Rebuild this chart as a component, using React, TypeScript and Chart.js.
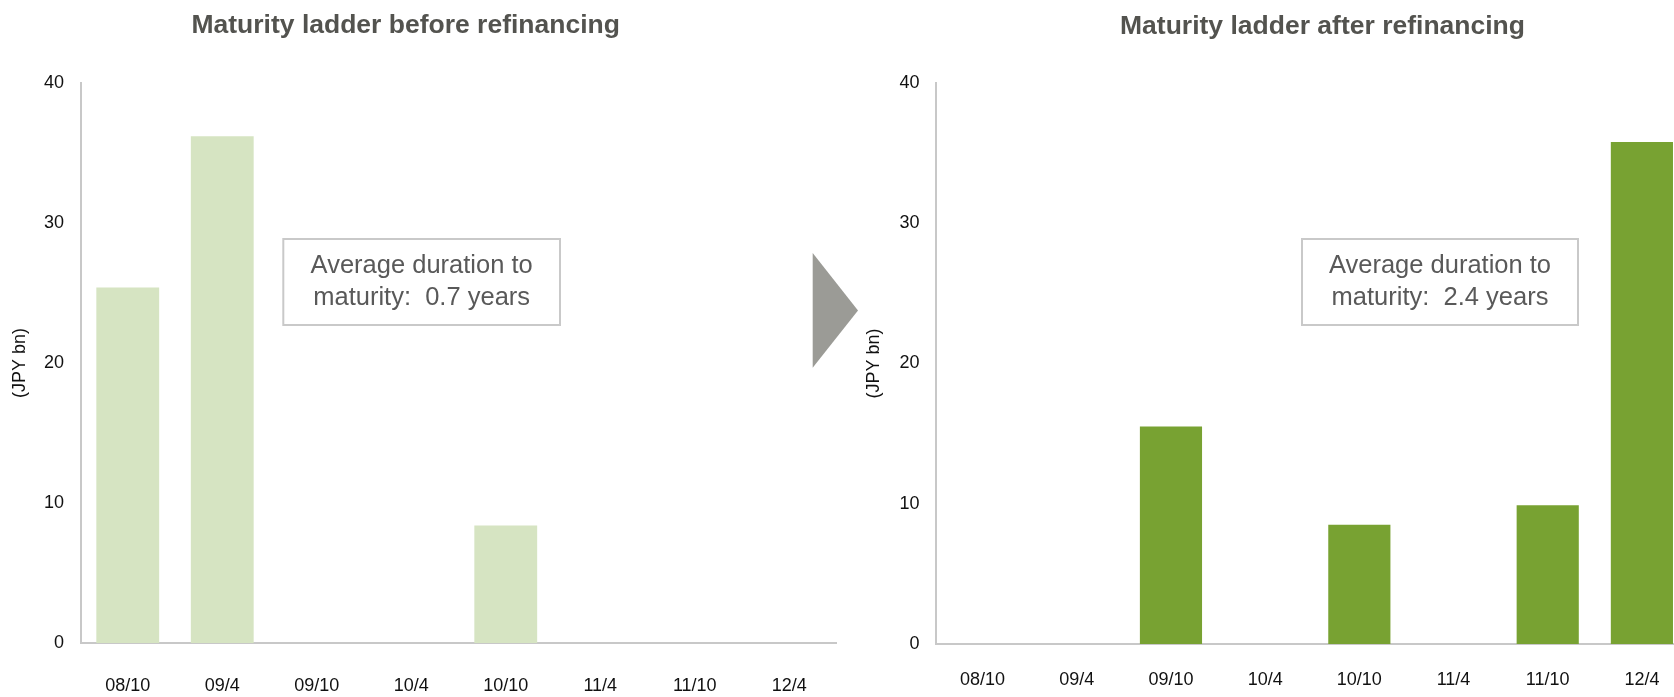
import React, { useEffect, useRef } from 'react';
import { Chart, registerables } from 'chart.js';

Chart.register(...registerables);

// Maturity buckets (fiscal year / month)
const categories = ['08/10', '09/4', '09/10', '10/4', '10/10', '11/4', '11/10', '12/4'];

// Debt maturing in each bucket, JPY bn
const beforeValues = [25.4, 36.2, 0, 0, 8.4, 0, 0, 0];
const afterValues = [0, 0, 15.5, 0, 8.5, 0, 9.9, 35.8];

const beforeTitle = 'Maturity ladder before refinancing';
const afterTitle = 'Maturity ladder after refinancing';
const beforeNote = ['Average duration to', 'maturity:  0.7 years'];
const afterNote = ['Average duration to', 'maturity:  2.4 years'];
const axisTitle = '(JPY bn)';

const yMin = 0;
const yMax = 40;
const yStep = 10;

const FONT = '"Liberation Sans", Arial, Helvetica, sans-serif';
const CANVAS_H = 697;

type PanelProps = {
  left: number;
  width: number;
  values: number[];
  color: string;
  barPct: number;
  title: string;
  titleX: number;
  titleY: number;
  note: string[];
  box: [number, number, number, number];
  noteBaselines: number[];
  axisWidth: number;
  plotTop: number;
  plotRight: number;
  bottomAxisHeight: number;
  xTickPad: number;
  yTickPad: number;
  yTitlePad: number;
  arrow?: [number, number][];
};

function Panel(p: PanelProps) {
  const ref = useRef<HTMLCanvasElement | null>(null);

  useEffect(() => {
    const canvas = ref.current;
    if (!canvas) return;

    const decor = {
      id: 'panelDecor',
      afterDraw(chart: Chart) {
        const ctx = chart.ctx;
        ctx.save();
        ctx.textAlign = 'center';
        ctx.textBaseline = 'alphabetic';

        // heading
        ctx.font = `bold 26.5px ${FONT}`;
        ctx.fillStyle = '#53534f';
        ctx.fillText(p.title, p.titleX, p.titleY);

        // framed note
        const [bx, by, bw, bh] = p.box;
        ctx.fillStyle = '#ffffff';
        ctx.fillRect(bx, by, bw, bh);
        ctx.strokeStyle = '#c9c9c9';
        ctx.lineWidth = 2;
        ctx.strokeRect(bx, by, bw, bh);
        ctx.font = `25.5px ${FONT}`;
        ctx.fillStyle = '#595959';
        p.note.forEach((line, i) => ctx.fillText(line, bx + bw / 2, p.noteBaselines[i]));

        // transition arrow between the two ladders
        if (p.arrow) {
          ctx.beginPath();
          p.arrow.forEach(([x, y], i) => (i === 0 ? ctx.moveTo(x, y) : ctx.lineTo(x, y)));
          ctx.closePath();
          ctx.fillStyle = '#9b9b96';
          ctx.fill();
        }
        ctx.restore();
      },
    };

    const tickFont = { size: 18, family: FONT };

    const chart = new Chart(canvas, {
      type: 'bar',
      data: {
        labels: categories,
        datasets: [
          {
            data: p.values,
            backgroundColor: p.color,
            borderWidth: 0,
            barPercentage: p.barPct,
            categoryPercentage: 1,
          },
        ],
      },
      options: {
        responsive: false,
        animation: false,
        devicePixelRatio: 1,
        layout: {
          padding: { top: p.plotTop, left: 0, right: p.width - p.plotRight, bottom: 0 },
        },
        plugins: {
          legend: { display: false },
          title: { display: false },
          tooltip: { enabled: false },
        },
        scales: {
          x: {
            grid: { display: false, drawTicks: false },
            border: { display: true, color: '#c8c8c8', width: 2 },
            ticks: {
              color: '#111111',
              font: tickFont,
              padding: p.xTickPad,
              autoSkip: false,
              maxRotation: 0,
              minRotation: 0,
            },
            afterFit: (s: any) => {
              s.height = p.bottomAxisHeight;
            },
          },
          y: {
            min: yMin,
            max: yMax,
            grid: { display: false, drawTicks: false },
            border: { display: true, color: '#c8c8c8', width: 2 },
            ticks: {
              stepSize: yStep,
              color: '#111111',
              font: tickFont,
              padding: p.yTickPad,
            },
            title: {
              display: true,
              text: axisTitle,
              color: '#111111',
              font: tickFont,
              padding: { top: p.yTitlePad, bottom: 0 },
            },
            afterFit: (s: any) => {
              s.width = p.axisWidth;
            },
          },
        },
      },
      plugins: [decor],
    });

    return () => chart.destroy();
  }, []);

  return (
    <canvas
      ref={ref}
      width={p.width}
      height={CANVAS_H}
      style={{ position: 'absolute', left: p.left, top: 0, width: p.width, height: CANVAS_H }}
    />
  );
}

export default function App() {
  return (
    <div
      style={{
        position: 'fixed',
        left: 0,
        top: 0,
        width: 1674,
        height: CANVAS_H,
        overflow: 'hidden',
        background: '#ffffff',
      }}
    >
      <Panel
        left={0}
        width={870}
        values={beforeValues}
        color="#d6e4c2"
        barPct={0.665}
        title={beforeTitle}
        titleX={405.7}
        titleY={32.5}
        note={beforeNote}
        box={[283.3, 239, 276.7, 86]}
        noteBaselines={[273, 305]}
        axisWidth={80.5}
        plotTop={83}
        plotRight={836.5}
        bottomAxisHeight={54}
        xTickPad={32}
        yTickPad={16.5}
        yTitlePad={9.7}
        arrow={[
          [812.7, 253],
          [858, 310.5],
          [812.7, 367.7],
        ]}
      />
      <Panel
        left={860}
        width={840}
        values={afterValues}
        color="#78a232"
        barPct={0.66}
        title={afterTitle}
        titleX={462.5}
        titleY={33.5}
        note={afterNote}
        box={[442, 239, 276, 86]}
        noteBaselines={[273, 305]}
        axisWidth={75.5}
        plotTop={83}
        plotRight={829}
        bottomAxisHeight={53}
        xTickPad={25}
        yTickPad={16}
        yTitlePad={3.2}
      />
    </div>
  );
}
